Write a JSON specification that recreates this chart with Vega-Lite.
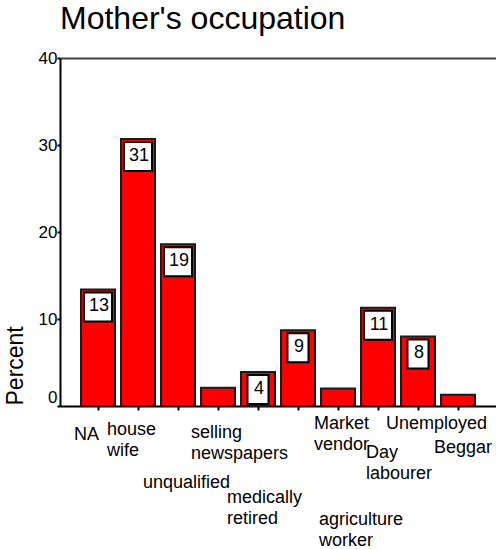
{
  "$schema": "https://vega.github.io/schema/vega-lite/v6.json",
  "width": 436,
  "height": 348,
  "autosize": {"type": "none"},
  "padding": {"left": 60, "top": 58, "right": 0, "bottom": 143},
  "background": "white",
  "config": {"view": {"stroke": null}, "font": "Liberation Sans"},
  "title": {
    "text": "Mother's occupation",
    "anchor": "start",
    "frame": "group",
    "font": "Liberation Sans",
    "fontSize": 32,
    "fontWeight": "normal",
    "color": "#000000",
    "dy": -9
  },
  "data": {
    "values": [
      {"occupation": "NA", "percent": 13.4},
      {"occupation": "house wife", "percent": 30.7},
      {"occupation": "unqualified", "percent": 18.6},
      {"occupation": "selling newspapers", "percent": 2.1},
      {"occupation": "medically retired", "percent": 3.9},
      {"occupation": "Market vendor", "percent": 8.7},
      {"occupation": "agriculture worker", "percent": 2.0},
      {"occupation": "Day labourer", "percent": 11.3},
      {"occupation": "Unemployed", "percent": 8.0},
      {"occupation": "Beggar", "percent": 1.3}
    ]
  },
  "encoding": {
    "x": {
      "field": "occupation",
      "type": "nominal",
      "sort": null,
      "scale": {"paddingInner": 0.15, "paddingOuter": 0.525},
      "axis": {
        "title": null,
        "domainColor": "#000000",
        "domainWidth": 2,
        "tickColor": "#000000",
        "tickSize": 4,
        "tickWidth": 2,
        "labelFont": "Liberation Sans",
        "labelFontSize": 18,
        "labelColor": "#000000",
        "labelAngle": 0,
        "labelAlign": "left",
        "labelBaseline": "alphabetic",
        "labelLineHeight": 21,
        "labelOverlap": false,
        "labelBound": false,
        "labelFlush": false,
        "labelLimit": 0,
        "labelExpr": "split(datum.label, ' ')",
        "labelOffset": {
          "condition": [
            {"test": "datum.value === 'NA'", "value": -24},
            {"test": "datum.value === 'house wife'", "value": -31},
            {"test": "datum.value === 'unqualified'", "value": -35},
            {"test": "datum.value === 'selling newspapers'", "value": -27},
            {"test": "datum.value === 'medically retired'", "value": -31},
            {"test": "datum.value === 'Market vendor'", "value": 16},
            {"test": "datum.value === 'agriculture worker'", "value": -19},
            {"test": "datum.value === 'Day labourer'", "value": -12},
            {"test": "datum.value === 'Unemployed'", "value": -32}
          ],
          "value": -24
        },
        "labelPadding": {
          "condition": [
            {"test": "datum.value === 'NA'", "value": 29},
            {"test": "datum.value === 'house wife'", "value": 24},
            {"test": "datum.value === 'unqualified'", "value": 77},
            {"test": "datum.value === 'selling newspapers'", "value": 27},
            {"test": "datum.value === 'medically retired'", "value": 92},
            {"test": "datum.value === 'Market vendor'", "value": 18},
            {"test": "datum.value === 'agriculture worker'", "value": 114},
            {"test": "datum.value === 'Day labourer'", "value": 47},
            {"test": "datum.value === 'Unemployed'", "value": 18}
          ],
          "value": 42
        }
      }
    },
    "y": {
      "field": "percent",
      "type": "quantitative",
      "scale": {"domain": [0, 40], "nice": false},
      "axis": {
        "title": "Percent",
        "values": [0, 10, 20, 30, 40],
        "domainColor": "#000000",
        "domainWidth": 2,
        "tickColor": "#000000",
        "tickSize": 3,
        "tickWidth": 2,
        "labelFont": "Liberation Sans",
        "labelFontSize": 17,
        "labelColor": "#000000",
        "labelPadding": 0,
        "labelOffset": {"condition": {"test": "datum.value === 0", "value": -9}, "value": 0},
        "grid": true,
        "gridColor": "#404040",
        "gridWidth": 2,
        "gridOpacity": {"condition": {"test": "datum.value === 40", "value": 1}, "value": 0},
        "titleFont": "Liberation Sans",
        "titleFontSize": 23,
        "titleFontWeight": "normal",
        "titleColor": "#000000",
        "titleAngle": -90,
        "titleAlign": "left",
        "titleBaseline": "alphabetic",
        "titleX": -38,
        "titleY": 347
      }
    }
  },
  "layer": [
    {
      "mark": {"type": "bar", "fill": "#ff0000", "stroke": "#1a1a1a", "strokeWidth": 2}
    },
    {
      "transform": [{"filter": "datum.percent >= 9.5"}],
      "mark": {"type": "rect", "width": 28, "height": 29, "baseline": "top", "yOffset": 3, "fill": "#ffffff", "stroke": "#000000", "strokeWidth": 2}
    },
    {
      "transform": [{"filter": "datum.percent >= 3 && datum.percent < 9.5"}],
      "mark": {"type": "rect", "width": 21, "height": 29, "baseline": "top", "yOffset": 3, "fill": "#ffffff", "stroke": "#000000", "strokeWidth": 2}
    },
    {
      "transform": [{"filter": "datum.percent >= 3"}],
      "mark": {"type": "text", "font": "Liberation Sans", "fontSize": 18, "color": "#000000", "baseline": "alphabetic", "yOffset": 22, "dx": 1},
      "encoding": {
        "text": {"field": "percent", "type": "quantitative", "format": ".0f"}
      }
    }
  ]
}
